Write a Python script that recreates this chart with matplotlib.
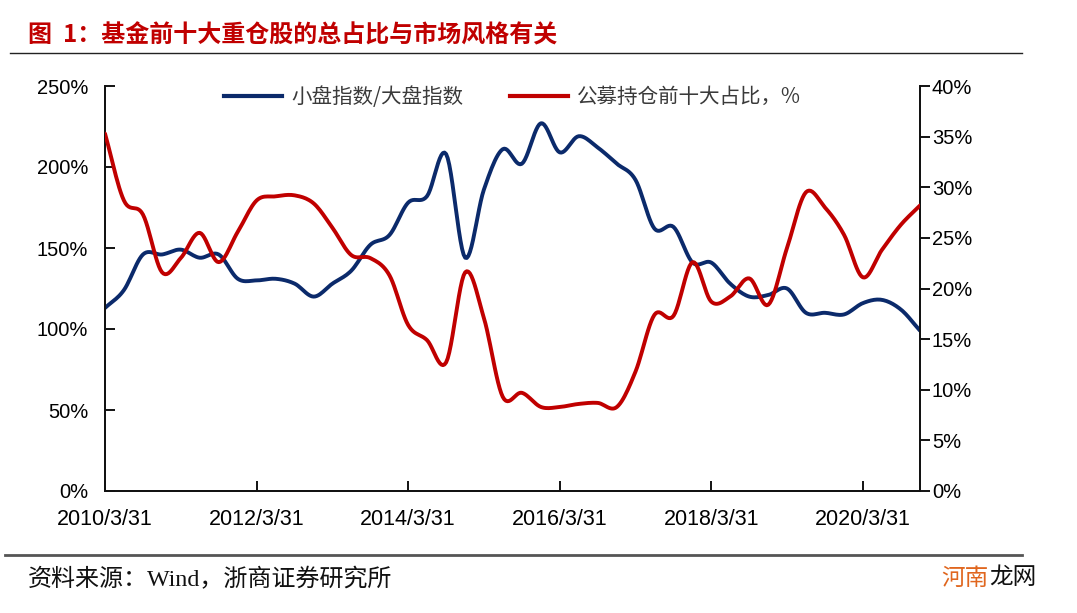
import numpy as np
import pandas as pd
import matplotlib
matplotlib.use("Agg")
import matplotlib.pyplot as plt
import matplotlib.dates as mdates
from matplotlib.ticker import FuncFormatter, MultipleLocator
from matplotlib.lines import Line2D

plt.rcParams['font.family'] = ['Liberation Sans', 'Noto Sans CJK SC', 'DejaVu Sans']

# ---------------- data ----------------
dates = pd.date_range('2010-03-31', periods=44, freq='QE')
small_large_ratio = [113, 124, 146, 146, 149, 144, 146, 131, 130, 131, 128, 120,
                     128, 136, 152, 158, 178, 182, 208, 144, 186, 211, 202, 227,
                     209, 219, 212, 202, 192, 162, 163, 141, 141, 128, 120, 121,
                     125, 110, 110, 109, 116, 118, 112, 99]
top10_share = [35.3, 28.7, 27.3, 21.6, 23.0, 25.5, 22.6, 25.6, 28.7, 29.1, 29.2, 28.4,
               26.0, 23.3, 23.0, 21.3, 16.4, 14.9, 12.7, 21.6, 17.1, 9.3, 9.7, 8.3,
               8.3, 8.6, 8.7, 8.3, 11.8, 17.4, 17.3, 22.6, 18.7, 19.2, 21.0, 18.4,
               24.0, 29.5, 28.0, 25.3, 21.1, 23.8, 26.3, 28.2]
tick_dates = pd.to_datetime(['2010-03-31', '2012-03-31', '2014-03-31',
                             '2016-03-31', '2018-03-31', '2020-03-31'])
tick_labels = ['2010/3/31', '2012/3/31', '2014/3/31', '2016/3/31', '2018/3/31', '2020/3/31']
label_blue = '小盘指数/大盘指数'
label_red = '公募持仓前十大占比，%'
title = '图  1：基金前十大重仓股的总占比与市场风格有关'
source = '资料来源：Wind，浙商证券研究所'

BLUE = '#0B2A6B'
RED = '#C00000'


def smooth(x, y, n=12):
    """Catmull-Rom style smoothing (like Excel's smoothed line) for display."""
    x = np.asarray(x, float)
    y = np.asarray(y, float)
    px = np.concatenate([[2 * x[0] - x[1]], x, [2 * x[-1] - x[-2]]])
    py = np.concatenate([[2 * y[0] - y[1]], y, [2 * y[-1] - y[-2]]])
    xs, ys = [], []
    t = np.linspace(0, 1, n, endpoint=False)
    for i in range(1, len(px) - 2):
        p0, p1, p2, p3 = py[i - 1], py[i], py[i + 1], py[i + 2]
        q0, q1, q2, q3 = px[i - 1], px[i], px[i + 1], px[i + 2]
        c1y = p1 + (p2 - p0) / 6
        c2y = p2 - (p3 - p1) / 6
        c1x = q1 + (q2 - q0) / 6
        c2x = q2 - (q3 - q1) / 6
        b = [(1 - t) ** 3, 3 * (1 - t) ** 2 * t, 3 * (1 - t) * t ** 2, t ** 3]
        xs.append(b[0] * q1 + b[1] * c1x + b[2] * c2x + b[3] * q2)
        ys.append(b[0] * p1 + b[1] * c1y + b[2] * c2y + b[3] * p2)
    xs.append([x[-1]])
    ys.append([y[-1]])
    return np.concatenate(xs), np.concatenate(ys)


fig = plt.figure(figsize=(10.77, 6.13), dpi=100)
ax = fig.add_axes([105 / 1077, 1 - 491 / 613, (920 - 105) / 1077, (491 - 86) / 613])
ax2 = ax.twinx()

xnum = mdates.date2num(dates)
bx, by = smooth(xnum, small_large_ratio)
rx, ry = smooth(xnum, top10_share)
ax.plot(bx, by, color=BLUE, lw=2.8, solid_capstyle='round', zorder=3)
ax2.plot(rx, ry, color=RED, lw=2.8, solid_capstyle='round', zorder=3)

ax.set_xlim(mdates.date2num(dates[0]), mdates.date2num(dates[-1]))
ax.set_ylim(0, 250)
ax2.set_ylim(0, 40)
ax.yaxis.set_major_locator(MultipleLocator(50))
ax2.yaxis.set_major_locator(MultipleLocator(5))
ax.yaxis.set_major_formatter(FuncFormatter(lambda v, p: f'{v:.0f}%'))
ax2.yaxis.set_major_formatter(FuncFormatter(lambda v, p: f'{v:.0f}%'))
ax.set_xticks(mdates.date2num(tick_dates))
ax.set_xticklabels(tick_labels)

for a in (ax, ax2):
    a.spines['top'].set_visible(False)
    for s in ('left', 'right', 'bottom'):
        a.spines[s].set_linewidth(1.3)
        a.spines[s].set_color('#111111')
ax.tick_params(axis='y', direction='in', length=7, width=1.3, labelsize=14.5, pad=12)
ax.tick_params(axis='x', direction='in', length=7, width=1.3, labelsize=15.5, pad=13)
ax2.tick_params(axis='y', direction='out', length=7, width=1.3, labelsize=14.5, pad=1.5)

handles = [Line2D([0], [0], color=BLUE, lw=3), Line2D([0], [0], color=RED, lw=3)]
leg = ax.legend(handles, [label_blue, label_red], loc='upper center',
                bbox_to_anchor=(0.5, 1.045), ncol=2, frameon=False,
                handlelength=2.8, columnspacing=2.3, handletextpad=0.45,
                prop={'family': ['Noto Sans CJK SC', 'DejaVu Sans'], 'size': 14.8})
for t in leg.get_texts():
    t.set_color('#3a3a3a')

# Title and decorations
fig.text(28 / 1077, 1 - 35 / 613, title, color=RED, fontsize=17.3, fontweight='bold',
         family=['Noto Sans CJK SC', 'DejaVu Sans'], va='center', ha='left')
fig.add_artist(Line2D([10 / 1077, 1022 / 1077], [1 - 53 / 613, 1 - 53 / 613],
                      color='#222222', lw=1.0))
fig.add_artist(Line2D([5 / 1077, 1022 / 1077], [1 - 555 / 613, 1 - 555 / 613],
                      color='#555555', lw=2.0))
fig.text(28 / 1077, 1 - 580 / 613, source, color='#111111', fontsize=17.3,
         family=['Liberation Serif', 'Noto Sans CJK SC', 'DejaVu Sans'],
         va='center', ha='left')
fig.text(989 / 1077, 1 - 578 / 613, '河南', color='#E0661E', fontsize=17,
         family=['Noto Sans CJK SC'], va='center', ha='right')
fig.text(989 / 1077, 1 - 578 / 613, '龙网', color='#111111', fontsize=17,
         family=['Noto Sans CJK SC'], va='center', ha='left')

fig.savefig('out.png', dpi=100, facecolor='white')
